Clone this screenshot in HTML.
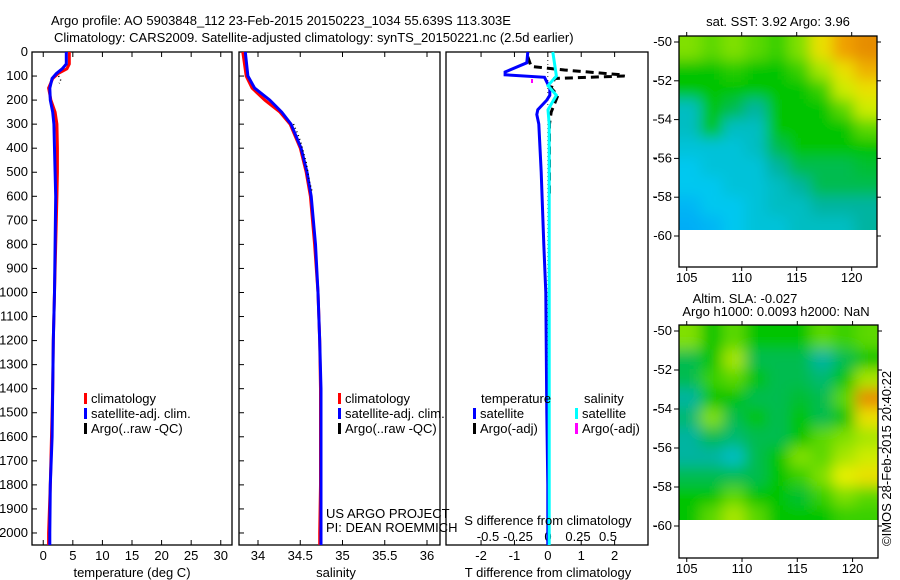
<!DOCTYPE html>
<html><head><meta charset="utf-8">
<style>
html,body{margin:0;padding:0;background:#fff;}
svg{display:block;font-family:"Liberation Sans",sans-serif;}
text{font-size:13px;fill:#000;}
</style></head>
<body>
<svg id="fig" width="900" height="580" viewBox="0 0 900 580" xmlns="http://www.w3.org/2000/svg">
<defs>
<clipPath id="c1"><rect x="679" y="36" width="198" height="194"/></clipPath>
<clipPath id="c2"><rect x="679" y="325" width="199" height="195"/></clipPath>
<filter id="bl" x="0" y="0" width="1" height="1"><feGaussianBlur stdDeviation="7"/></filter>
</defs>
<text x="51" y="25">Argo profile: AO 5903848_112 23-Feb-2015 20150223_1034 55.639S 113.303E</text>
<text x="54" y="42">Climatology: CARS2009. Satellite-adjusted climatology: synTS_20150221.nc (2.5d earlier)</text>
<g id="g"></g>
</svg>
<script>
// ---- data ----
const depths = [0,50,70,90,110,150,200,250,300,400,500,600,800,1000,1200,1400,1600,1800,2000,2050];
const tempClim = [4.4,4.4,4.0,2.5,1.6,0.9,1.3,2.0,2.3,2.4,2.4,2.3,2.1,1.9,1.7,1.6,1.4,1.2,0.9,0.9];
const tempSat  = [3.9,3.9,3.2,2.2,1.5,1.1,1.2,1.6,1.8,1.9,2.0,2.1,2.0,1.9,1.7,1.6,1.5,1.2,1.1,1.1];
const salDepths = [0,100,150,200,250,300,400,500,600,800,1000,1200,1400,1600,1800,2000,2050];
const salClim = [33.82,33.86,33.93,34.08,34.26,34.38,34.50,34.57,34.62,34.67,34.71,34.73,34.74,34.74,34.74,34.73,34.73];
const salSat  = [33.85,33.88,33.96,34.14,34.28,34.39,34.51,34.58,34.63,34.68,34.71,34.73,34.745,34.745,34.745,34.745,34.745];
const argoTDepths = [100,110,120,130];
const argoTemp = [2.6,2.8,3.0,2.7];
const argoSDepths = [300,340,380,420,460,500,540,580];
const argoSal = [34.42,34.47,34.51,34.54,34.57,34.59,34.61,34.64];
const dTDepths = [0,45,83,95,105,150,180,200,240,260,300,500,800,1000,1500,1800,2050];
const dTSat = [-0.6,-0.63,-1.28,-1.28,-0.1,0.06,0.06,-0.03,-0.3,-0.33,-0.27,-0.2,-0.12,-0.06,-0.03,0,0];
const dSDepths = [0,100,140,180,240,300,1000,2050];
const dSSat = [0.04,0.07,0.0,0.07,0.0,0.01,0.01,0.01];
const dTArgoDepths = [20,60,75,95,100,110,150,180,250,300,600];
const dTArgo = [-0.6,-0.5,0.5,2.2,2.3,0.2,0.1,0.3,0.1,0.05,0.05];
const tempTicks = [0,5,10,15,20,25,30];
const salTicks = [34,34.5,35,35.5,36];
const dTTicks = [-2,-1,0,1,2];
const dSTicks = [-0.5,-0.25,0,0.25,0.5];
const depthTicks = [0,100,200,300,400,500,600,700,800,900,1000,1100,1200,1300,1400,1500,1600,1700,1800,1900,2000];
const lonTicks = [105,110,115,120];
const latTicks = [-50,-52,-54,-56,-58,-60];
const sstGrid = [
[.62,.6,.62,.6,.58,.62,.72,.8,.82],
[.55,.55,.57,.55,.55,.58,.65,.72,.78],
[.55,.55,.55,.55,.55,.55,.58,.68,.72],
[.42,.55,.5,.45,.55,.55,.55,.6,.68],
[.42,.55,.42,.42,.55,.55,.55,.55,.6],
[.4,.4,.4,.42,.5,.55,.55,.55,.55],
[.38,.4,.4,.4,.45,.5,.5,.5,.52],
[.38,.38,.4,.4,.42,.45,.5,.5,.5],
[.36,.38,.38,.4,.42,.42,.45,.45,.45],
[.35,.36,.38,.4,.4,.42,.42,.42,.45]];
const slaGrid = [
[.62,.55,.6,.55,.55,.55,.6,.58,.6],
[.5,.55,.65,.5,.5,.5,.45,.5,.55],
[.5,.58,.6,.55,.5,.5,.48,.55,.65],
[.45,.55,.55,.5,.5,.52,.5,.6,.82],
[.48,.62,.5,.55,.5,.55,.5,.55,.72],
[.45,.5,.48,.5,.5,.55,.6,.62,.65],
[.45,.45,.42,.5,.55,.62,.6,.65,.68],
[.5,.5,.5,.5,.55,.58,.62,.7,.72],
[.55,.55,.6,.55,.55,.52,.58,.62,.6],
[.55,.6,.65,.6,.55,.55,.55,.58,.58]];

const NS='http://www.w3.org/2000/svg';
const G=document.getElementById('g');
function el(tag,attrs,parent){const e=document.createElementNS(NS,tag);for(const k in attrs)e.setAttribute(k,attrs[k]);(parent||G).appendChild(e);return e;}
function txt(x,y,s,anchor,parent){const t=el('text',{x:x,y:y,'text-anchor':anchor||'start'},parent);t.textContent=s;return t;}

const Y0=52,Y1=545,DMAX=2050;
const yD=d=>Y0+d/DMAX*(Y1-Y0);
function lin(a,b,p,q){return v=>p+(v-a)/(b-a)*(q-p);}
const P1={x0:32,x1:232}, P2={x0:239,x1:440}, P3={x0:446,x1:648};
const xT=lin(-1.9,31.9,P1.x0,P1.x1);
const xS=lin(33.775,36.154,P2.x0,P2.x1);
const xDT=lin(-3.05,3.0,P3.x0,P3.x1);
const xDS=lin(-0.5,0.5,488,608);

function frame(P,name){
  const r=el('rect',{x:P.x0,y:Y0,width:P.x1-P.x0,height:Y1-Y0,fill:'none',stroke:'#000','stroke-width':1.3});
  
  
}
function line(xs,ds,xf,color,w,dash,name){
  const pts=xs.map((v,i)=>xf(v).toFixed(1)+','+yD(ds[i]).toFixed(1)).join(' ');
  const a={points:pts,fill:'none',stroke:color,'stroke-width':w};
  if(dash)a['stroke-dasharray']=dash;
  const p=el('polyline',a);
  
  
}
// panel 1
frame(P1,'temperature-panel');
depthTicks.forEach(d=>{
  el('line',{x1:P1.x0,x2:P1.x0+5,y1:yD(d),y2:yD(d),stroke:'#000'});
  el('line',{x1:P2.x0,x2:P2.x0+5,y1:yD(d),y2:yD(d),stroke:'#000'});
  const t=txt(28,yD(d)+4,String(d),'end');
  
  
});
tempTicks.forEach(v=>{
  el('line',{x1:xT(v),x2:xT(v),y1:Y0,y2:Y0+5,stroke:'#000'});
  el('line',{x1:xT(v),x2:xT(v),y1:Y1,y2:Y1-5,stroke:'#000'});
  const t=txt(xT(v),560,String(v),'middle');
  
  
});
line(tempClim,depths,xT,'#f00',3,null,'temp-climatology-line');
line(tempSat,depths,xT,'#00f',3,null,'temp-satellite-line');
line(argoTemp,argoTDepths,xT,'#000',1.5,'1 3','temp-argo-line');
// panel 2
frame(P2,'salinity-panel');
salTicks.forEach(v=>{
  el('line',{x1:xS(v),x2:xS(v),y1:Y0,y2:Y0+5,stroke:'#000'});
  el('line',{x1:xS(v),x2:xS(v),y1:Y1,y2:Y1-5,stroke:'#000'});
  const t=txt(xS(v),560,String(v),'middle');
  
  
});
line(salClim,salDepths,xS,'#f00',3,null,'sal-climatology-line');
line(salSat,salDepths,xS,'#00f',3,null,'sal-satellite-line');
line(argoSal,argoSDepths,xS,'#000',1.5,'1 3','sal-argo-line');
// panel 3
frame(P3,'difference-panel');
dTTicks.forEach(v=>{
  el('line',{x1:xDT(v),x2:xDT(v),y1:Y0,y2:Y0+5,stroke:'#000'});
  el('line',{x1:xDT(v),x2:xDT(v),y1:Y1,y2:Y1-5,stroke:'#000'});
  const t=txt(xDT(v),560,String(v),'middle');
  
  
});
dSTicks.forEach(v=>{
  const t=txt(xDS(v),541,String(v),'middle');
  
  
});
[81,120,158,197,410,448,487,526].forEach(y=>el('line',{x1:653,x2:657,y1:y,y2:y,stroke:'#000'}));
el('line',{x1:xDT(0),x2:xDT(0),y1:Y0,y2:Y1,stroke:'#000','stroke-width':0.8,'stroke-dasharray':'1 3'});
line(dTArgo,dTArgoDepths,xDT,'#000',3,'8 5','t-diff-argo-line');
line(dTSat,dTDepths,xDT,'#00f',3,null,'t-diff-satellite-line');
line(dSSat,dSDepths,xDS,'#0ff',3,null,'s-diff-satellite-line');
el('rect',{x:531,y:79,width:2,height:4,fill:'#f0f'});

// legends
function legend(x,y,color,label,name){
  el('rect',{x:x,y:y-10,width:3,height:11,fill:color});
  const t=txt(x+7,y,label);
  
  
}
legend(84,403,'#f00','climatology','legend-climatology');
legend(84,418,'#00f','satellite-adj. clim.','legend-satellite-adj');
legend(84,433,'#000','Argo(..raw -QC)','legend-argo-raw');
legend(338,403,'#f00','climatology','legend-sal-climatology');
legend(338,418,'#00f','satellite-adj. clim.','legend-sal-satellite-adj');
legend(338,433,'#000','Argo(..raw -QC)','legend-sal-argo-raw');
txt(481,403,'temperature');
txt(584,403,'salinity');
legend(473,418,'#00f','satellite','legend-t-satellite');
legend(473,433,'#000','Argo(-adj)','legend-t-argo');
legend(575,418,'#0ff','satellite','legend-s-satellite');
legend(575,433,'#f0f','Argo(-adj)','legend-s-argo');
txt(326,518,'US ARGO PROJECT');
txt(326,532,'PI: DEAN ROEMMICH');
txt(548,525,'S difference from climatology','middle');
txt(132,577,'temperature (deg C)','middle');
txt(336,577,'salinity','middle');
txt(548,577,'T difference from climatology','middle');

// maps
const stops=[[0.3,[0,128,255]],[0.38,[0,200,240]],[0.45,[0,180,160]],[0.55,[0,196,0]],[0.62,[128,224,0]],[0.7,[232,240,0]],[0.8,[240,160,0]],[0.9,[192,64,0]]];
function cmap(v){
  if(v<=stops[0][0])return 'rgb('+stops[0][1]+')';
  for(let i=1;i<stops.length;i++){if(v<=stops[i][0]){const a=stops[i-1],b=stops[i],f=(v-a[0])/(b[0]-a[0]);return 'rgb('+a[1].map((c,k)=>Math.round(c+(b[1][k]-c)*f)).join(',')+')';}}
  return 'rgb('+stops[stops.length-1][1]+')';
}
function map(M,grid,clip,name){
  const xL=lin(104.3,122.3,679,M.x1), yL=lin(-50,-60,M.yA,M.yB);
  const g=el('g',{'clip-path':'url(#'+clip+')'});
  
  
  const gi=el('g',{filter:'url(#bl)'},g);
  const lat0=-50+(M.y0-M.yA)/(M.yB-M.yA)*-10;
  const nr=grid.length,nc=grid[0].length;
  const latEdges=[lat0]; for(let r=1;r<=nr;r++)latEdges.push(-50-10*r/nr);
  for(let r=0;r<nr;r++)for(let c=0;c<nc;c++){
    const lo0=104.3+18*c/nc-(c===0?3:0.05), lo1=104.3+18*(c+1)/nc+(c===nc-1?3:0.05);
    const ya=yL(r===0?lat0+2:latEdges[r]+0.05), yb=yL(r===nr-1?-62:latEdges[r+1]-0.05);
    const rc=el('rect',{x:xL(lo0),y:ya,width:xL(lo1)-xL(lo0),height:yb-ya,fill:cmap(grid[r][c])},gi);
    
    
  }
  el('rect',{x:679,y:M.y0,width:M.x1-679,height:M.y1-M.y0,fill:'none',stroke:'#000','stroke-width':1.3});
  latTicks.forEach(v=>{
    el('line',{x1:679,x2:674,y1:yL(v),y2:yL(v),stroke:'#000'});
    el('line',{x1:M.x1,x2:M.x1+4,y1:yL(v),y2:yL(v),stroke:'#000'});
    txt(672,yL(v)+4,String(v),'end');
  });
  lonTicks.forEach(v=>{
    el('line',{x1:xL(v),x2:xL(v),y1:M.y0,y2:M.y0-4,stroke:'#000'});
    el('line',{x1:xL(v),x2:xL(v),y1:M.y1,y2:M.y1+4,stroke:'#000'});
    txt(xL(v),M.y1+15,String(v),'middle');
  });
}
map({x1:877,y0:36,y1:267,yA:42,yB:236},sstGrid,'c1','sst-map');
map({x1:878,y0:325,y1:558,yA:331,yB:526},slaGrid,'c2','sla-map');
txt(778,26,'sat. SST: 3.92 Argo: 3.96','middle');
txt(745,303,'Altim. SLA: -0.027','middle');
txt(776,316,'Argo h1000: 0.0093 h2000: NaN','middle');
const ts=txt(0,0,'\u00A9IMOS 28-Feb-2015 20:40:22','start');
ts.setAttribute('transform','translate(891,546) rotate(-90)');


</script>
</body></html>
